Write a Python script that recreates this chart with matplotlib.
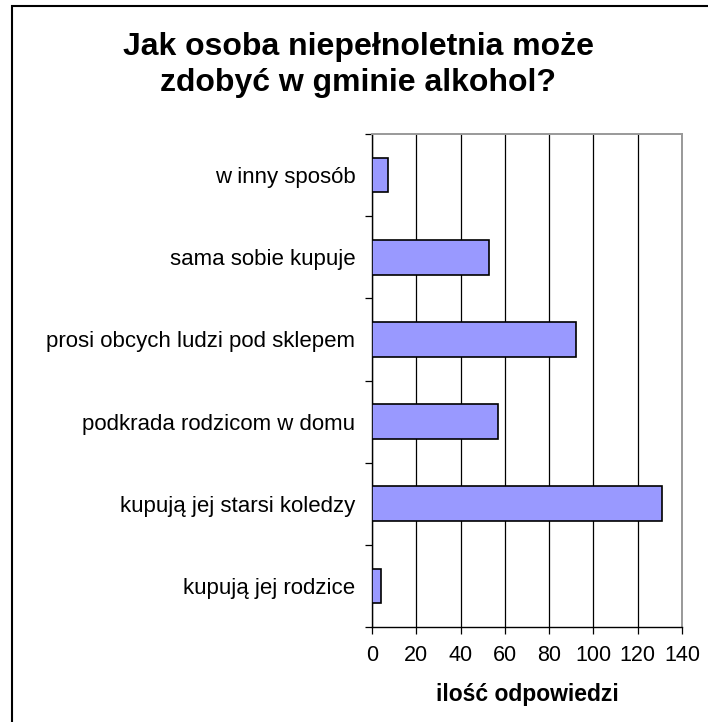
import numpy as np
import matplotlib
matplotlib.use("Agg")
import matplotlib.pyplot as plt
from matplotlib.patches import Rectangle
from matplotlib.ticker import FixedLocator

plt.rcParams['font.family'] = ['Liberation Sans', 'DejaVu Sans']

# --- Data (bottom to top) ---
categories = [
    'kupują jej rodzice',
    'kupują jej starsi koledzy',
    'podkrada rodzicom w domu',
    'prosi obcych ludzi pod sklepem',
    'sama sobie kupuje',
    'w inny sposób',
]
counts = [4, 131, 57, 92, 53, 7]
x_ticks = [0, 20, 40, 60, 80, 100, 120, 140]

fig = plt.figure(figsize=(7.08, 7.22), dpi=100)
ax = fig.add_axes([372 / 708, 1 - 627 / 722, 310 / 708, 493 / 722])

# --- Bars ---
pos = np.arange(len(categories))
ax.barh(pos, counts, height=0.42, color='#9999FF', edgecolor='black', lw=1.2, zorder=3)

ax.set_xlim(0, 140)
ax.set_ylim(-0.5, len(categories) - 0.5)

# vertical gridlines
ax.set_xticks(x_ticks)
ax.grid(True, axis='x', color='black', lw=0.9, zorder=1)

# category labels at centers, tick marks at boundaries
ax.set_yticks(pos)
ax.set_yticklabels(categories, fontsize=16)
ax.tick_params(axis='y', which='major', length=0, pad=12)
ax.yaxis.set_minor_locator(FixedLocator(np.arange(-0.5, len(categories), 1.0)))
ax.tick_params(axis='y', which='minor', length=5, width=0.9, color='black')

ax.tick_params(axis='x', labelsize=15.5, length=5, width=0.9, pad=8)

for s in ['top', 'right']:
    ax.spines[s].set_color('#999999')
    ax.spines[s].set_linewidth(1.4)
for s in ['left', 'bottom']:
    ax.spines[s].set_color('black')
    ax.spines[s].set_linewidth(1.0)

ax.set_xlabel('ilość odpowiedzi', fontsize=16.5, fontweight='bold', labelpad=12)

# --- Title ---
fig.text(0.506, 1 - 65 / 722, 'Jak osoba niepełnoletnia może\nzdobyć w gminie alkohol?',
         ha='center', va='center', fontsize=23, fontweight='bold', linespacing=1.3)

# --- Outer frame ---
fig.patches.append(Rectangle((12 / 708, -0.05), 1.0, 1 - 6 / 722 + 0.05,
                             transform=fig.transFigure, fill=False,
                             edgecolor='black', lw=1.5))

fig.savefig('out.png', dpi=100)
